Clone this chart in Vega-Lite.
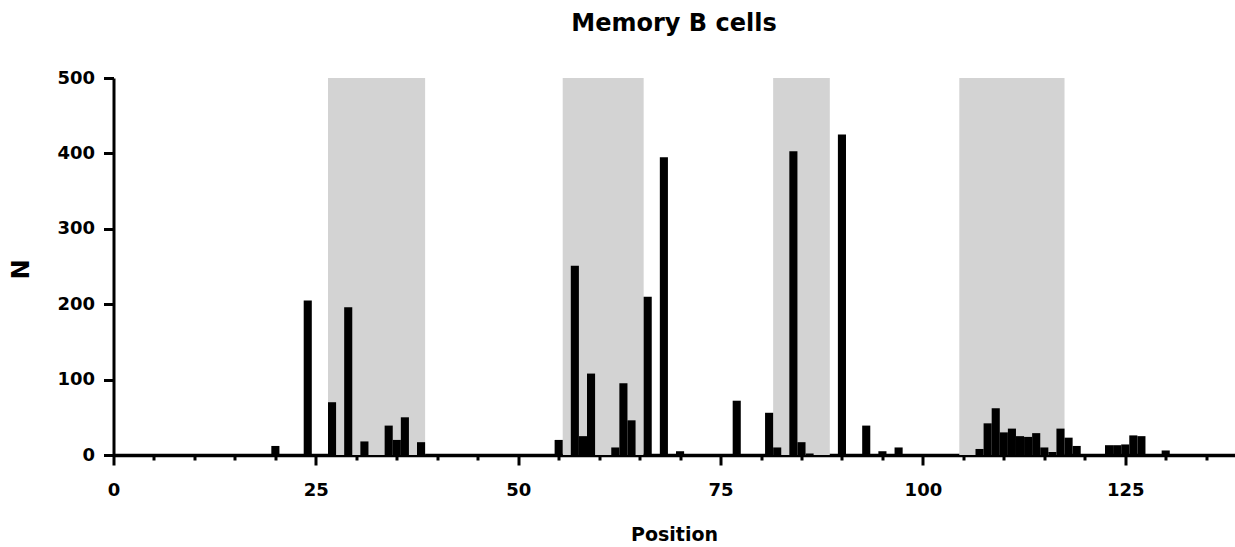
{
  "$schema": "https://vega.github.io/schema/vega-lite/v6.json",
  "autosize": {"type": "none"},
  "padding": {"left": 113.5, "top": 78, "right": 0, "bottom": 92},
  "width": 1121,
  "height": 377,
  "background": "white",
  "title": {
    "text": "Memory B cells",
    "font": "DejaVu Sans",
    "fontSize": 24,
    "fontWeight": "bold",
    "color": "black",
    "anchor": "middle",
    "frame": "group",
    "baseline": "alphabetic",
    "offset": 14
  },
  "config": {"view": {"stroke": null}},
  "datasets": {
    "regions": [
      {"start": 26.5, "end": 38.5},
      {"start": 55.5, "end": 65.5},
      {"start": 81.5, "end": 88.5},
      {"start": 104.5, "end": 117.5}
    ],
    "counts": [
      {"position": 20, "N": 12},
      {"position": 24, "N": 205},
      {"position": 27, "N": 70},
      {"position": 29, "N": 196},
      {"position": 31, "N": 18},
      {"position": 34, "N": 39},
      {"position": 35, "N": 20},
      {"position": 36, "N": 50},
      {"position": 38, "N": 17},
      {"position": 55, "N": 20},
      {"position": 57, "N": 251},
      {"position": 58, "N": 25},
      {"position": 59, "N": 108},
      {"position": 62, "N": 10},
      {"position": 63, "N": 95},
      {"position": 64, "N": 46},
      {"position": 66, "N": 210},
      {"position": 68, "N": 395},
      {"position": 70, "N": 5},
      {"position": 77, "N": 72},
      {"position": 81, "N": 56},
      {"position": 82, "N": 10},
      {"position": 84, "N": 403},
      {"position": 85, "N": 17},
      {"position": 86, "N": 2},
      {"position": 90, "N": 425},
      {"position": 93, "N": 39},
      {"position": 95, "N": 5},
      {"position": 97, "N": 10},
      {"position": 107, "N": 8},
      {"position": 108, "N": 42},
      {"position": 109, "N": 62},
      {"position": 110, "N": 30},
      {"position": 111, "N": 35},
      {"position": 112, "N": 25},
      {"position": 113, "N": 24},
      {"position": 114, "N": 29},
      {"position": 115, "N": 10},
      {"position": 116, "N": 4},
      {"position": 117, "N": 35},
      {"position": 118, "N": 23},
      {"position": 119, "N": 12},
      {"position": 123, "N": 13},
      {"position": 124, "N": 13},
      {"position": 125, "N": 14},
      {"position": 126, "N": 26},
      {"position": 127, "N": 25},
      {"position": 130, "N": 6}
    ]
  },
  "layer": [
    {
      "data": {"name": "regions"},
      "mark": {"type": "rect", "color": "#d3d3d3"},
      "encoding": {
        "x": {
          "field": "start",
          "type": "quantitative",
          "scale": {"domain": [0, 138.5], "nice": false, "zero": true, "padding": 0},
          "axis": {
            "title": "Position",
            "values": [0, 5, 10, 15, 20, 25, 30, 35, 40, 45, 50, 55, 60, 65, 70, 75, 80, 85, 90, 95, 100, 105, 110, 115, 120, 125, 130, 135],
            "labelExpr": "datum.value % 25 === 0 ? datum.label : ''",
            "tickSize": {"condition": {"test": "datum.value % 25 === 0", "value": 10}, "value": 5},
            "tickWidth": 3,
            "tickColor": "black",
            "domainColor": "black",
            "domainWidth": 3.5,
            "grid": false,
            "labelFont": "DejaVu Sans",
            "labelFontSize": 18,
            "labelFontWeight": "bold",
            "labelColor": "black",
            "labelPadding": 16,
            "labelFlush": false,
            "labelOverlap": false,
            "titleFont": "DejaVu Sans",
            "titleFontSize": 19,
            "titleFontWeight": "bold",
            "titleColor": "black",
            "titleBaseline": "alphabetic",
            "titleY": 85
          }
        },
        "x2": {"field": "end"}
      }
    },
    {
      "data": {"name": "counts"},
      "mark": {"type": "bar", "color": "black", "width": 8.1},
      "encoding": {
        "x": {"field": "position", "type": "quantitative", "title": "Position"},
        "y": {
          "field": "N",
          "type": "quantitative",
          "scale": {"domain": [0, 500], "nice": false},
          "axis": {
            "title": "N",
            "values": [0, 100, 200, 300, 400, 500],
            "tickSize": 10,
            "tickWidth": 3,
            "tickColor": "black",
            "domainColor": "black",
            "domainWidth": 3,
            "grid": false,
            "labelFont": "DejaVu Sans",
            "labelFontSize": 18,
            "labelFontWeight": "bold",
            "labelColor": "black",
            "labelPadding": 9,
            "labelFlush": false,
            "titleFont": "DejaVu Sans",
            "titleFontSize": 24,
            "titleFontWeight": "bold",
            "titleColor": "black",
            "titleAngle": 270,
            "titleBaseline": "middle",
            "titleAlign": "center",
            "titleX": -92,
            "titleY": 191
          }
        }
      }
    }
  ]
}
